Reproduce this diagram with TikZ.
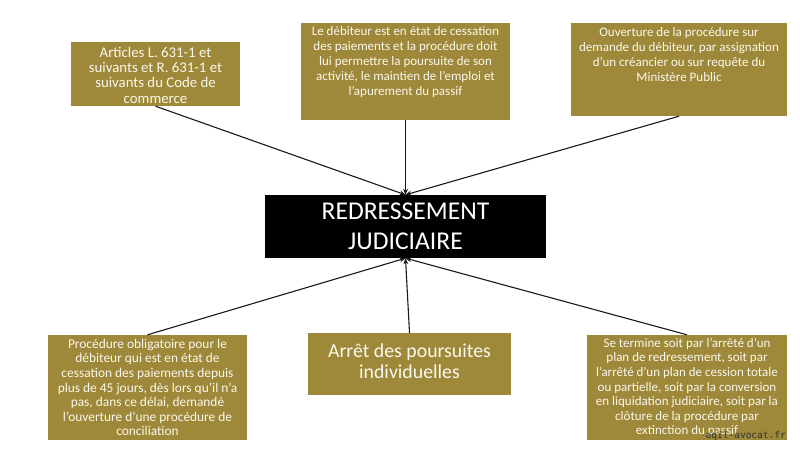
\documentclass[tikz,border=0pt]{standalone}
\usepackage{fontspec}
\setmainfont{Carlito}
\setmonofont{DejaVu Sans Mono}
\usetikzlibrary{arrows.meta}
\definecolor{gold}{RGB}{158,136,58}
\definecolor{cream}{RGB}{252,248,236}
\begin{document}
\begin{tikzpicture}[x=1pt,y=-1pt,
  goldbox/.style={fill=gold,draw=none,inner sep=0pt},
  blackbox/.style={fill=black,draw=none,inner sep=0pt},
  boxtext/.style={text=cream,align=center,inner sep=0pt},
  link/.style={draw=black!90,line width=1.1pt,-{Stealth[length=6pt,width=5pt]}}]
\path[use as bounding box,fill=white] (0,0) rectangle (800,450);
% boxes
\node[goldbox,minimum width=169pt,minimum height=64pt] (b1) at (155.5,74) {};
\node[goldbox,minimum width=209pt,minimum height=97pt] (b2) at (405.5,71.5) {};
\node[goldbox,minimum width=216pt,minimum height=93pt] (b3) at (679,69.5) {};
\node[blackbox,minimum width=281pt,minimum height=63pt] (c) at (405.5,226.5) {};
\node[goldbox,minimum width=199pt,minimum height=105pt] (bl) at (147.5,387.5) {};
\node[goldbox,minimum width=203pt,minimum height=62pt] (bm) at (409.5,364) {};
\node[goldbox,minimum width=200pt,minimum height=105pt] (br) at (687,387.5) {};
% texts
\node[boxtext,font=\fontsize{14.8}{15.3}\selectfont] (t1) at ([yshift=-1pt]b1.center) {Articles L. 631-1 et\\suivants et R. 631-1 et\\suivants du Code de\\commerce};
\node[boxtext,anchor=north,font=\fontsize{13}{15}\selectfont] (t2) at ([yshift=-3pt]b2.north) {Le débiteur est en état de cessation\\des paiements et la procédure doit\\lui permettre la poursuite de son\\activité, le maintien de l’emploi et\\l’apurement du passif};
\node[boxtext,anchor=north,font=\fontsize{13}{15}\selectfont] (t3) at ([yshift=-4pt]b3.north) {Ouverture de la procédure sur\\demande du débiteur, par assignation\\d’un créancier ou sur requête du\\Ministère Public};
\node[boxtext,text=white,font=\fontsize{25.6}{29.5}\selectfont] (tc) at (c.center) {REDRESSEMENT\\JUDICIAIRE};
\node[boxtext,font=\fontsize{13.4}{14.6}\selectfont] (tl) at (bl.center) {Procédure obligatoire pour le\\débiteur qui est en état de\\cessation des paiements depuis\\plus de 45 jours, dès lors qu'il n'a\\pas, dans ce délai, demandé\\l'ouverture d'une procédure de\\conciliation};
\node[boxtext,font=\fontsize{19.8}{20.5}\selectfont] (tm) at ([yshift=3pt]bm.center) {Arrêt des poursuites\\individuelles};
\node[boxtext,font=\fontsize{13}{14.6}\selectfont] (tr) at (br.center) {Se termine soit par l’arrêté d’un\\plan de redressement, soit par\\l’arrêté d’un plan de cession totale\\ou partielle, soit par la conversion\\en liquidation judiciaire, soit par la\\clôture de la procédure par\\extinction du passif};
% connectors
\draw[link] (b1.south) -- (c.north);
\draw[link] (b2.south) -- (c.north);
\draw[link] (b3.south) -- (c.north);
\draw[link] (bl.north) -- (c.south);
\draw[link] (bm.north) -- (c.south);
\draw[link] (br.north) -- (c.south);
% watermark
\node[anchor=base east,inner sep=0pt,text=black!80,font=\ttfamily\fontsize{9.5}{10}\selectfont] (wm) at (786,438) {aqil-avocat.fr};
\end{tikzpicture}
\end{document}
